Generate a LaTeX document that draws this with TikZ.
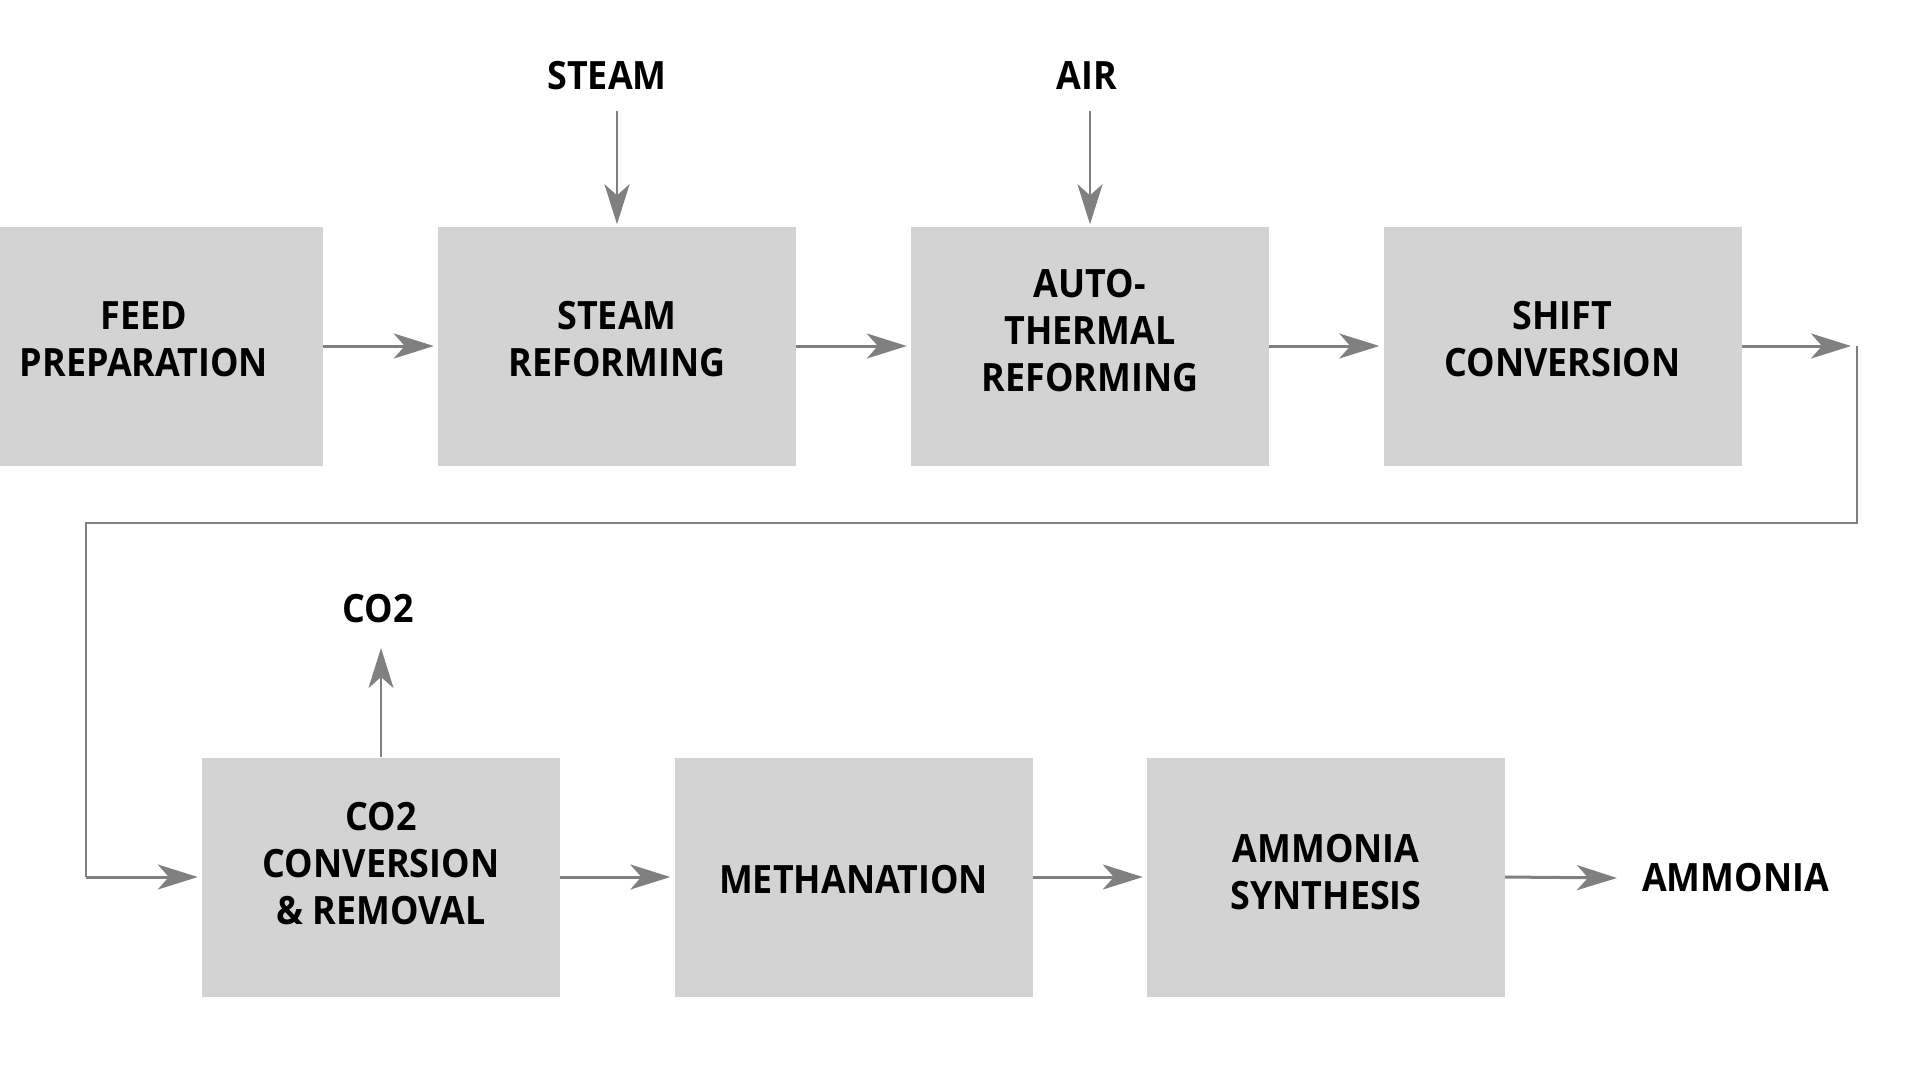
\documentclass[tikz,border=0pt]{standalone}
\usepackage{fontspec}
\setmainfont{Open Sans}[FakeStretch=0.92]
\usetikzlibrary{arrows.meta}
\definecolor{boxgray}{RGB}{211,211,211}
\definecolor{arrgray}{RGB}{128,128,128}
\tikzset{
  procbox/.style={fill=boxgray, draw=none, minimum width=358pt, minimum height=239pt, inner sep=0pt},
  boxlbl/.style={inner sep=0pt, align=center, font=\bfseries\fontsize{39}{47}\selectfont},
  lbl/.style={inner sep=0pt, font=\bfseries\fontsize{39}{47}\selectfont},
  flow/.style={draw=arrgray, line width=3pt, -{Stealth[length=40pt,width=25pt,inset=11pt]}},
  thinflow/.style={draw=arrgray, line width=2.5pt, -{Stealth[length=40pt,width=25pt,inset=11pt]}},
  loopline/.style={draw=arrgray, line width=2.5pt},
}
\begin{document}
\begin{tikzpicture}[x=1pt,y=-1pt]
\useasboundingbox (0,0) rectangle (1920,1080);
% row 1
\node[procbox, label={[boxlbl, yshift=7pt]center:{FEED\\PREPARATION}}] (feed) at (144,346) {};
\node[procbox, label={[boxlbl, yshift=7pt]center:{STEAM\\REFORMING}}] (steam) at (617,346) {};
\node[procbox, label={[boxlbl, yshift=15pt]center:{AUTO-\\THERMAL\\REFORMING}}] (atr) at (1090,346) {};
\node[procbox, label={[boxlbl, yshift=7pt]center:{SHIFT\\CONVERSION}}] (shift) at (1562.5,346) {};
% row 2
\node[procbox, label={[boxlbl, yshift=13.5pt]center:{CO2\\CONVERSION\\\& REMOVAL}}] (co2box) at (381,877) {};
\node[procbox, label={[boxlbl, yshift=-2.5pt]center:{METHANATION}}] (meth) at (853.5,877) {};
\node[procbox, label={[boxlbl, yshift=5pt]center:{AMMONIA\\SYNTHESIS}}] (synth) at (1326,877) {};
% labels
\node[lbl] (steamin) at (607,76) {STEAM};
\node[lbl] (airin) at (1087,76) {AIR};
\node[lbl] (co2out) at (378,609) {CO2};
\node[lbl, anchor=west] (nh3) at (1642,878) {AMMONIA};
% coordinates
\coordinate (steamtop) at (617,111);
\coordinate (airtop) at (1090,111);
\coordinate (co2tip) at (381,648);
\coordinate (shiftout) at (1851,346);
\coordinate (c1) at (1857,346);
\coordinate (c2) at (1857,523);
\coordinate (c3) at (86,523);
\coordinate (c4) at (86,877);
% connectors
\draw[flow] (feed.east) -- ([xshift=-4pt]steam.west);
\draw[flow] (steam.east) -- ([xshift=-4pt]atr.west);
\draw[flow] (atr.east) -- ([xshift=-4pt]shift.west);
\draw[flow] (shift.east) -- (shiftout);
\draw[loopline, line join=miter] (c1) -- (c2) -- (c3) -- (c4);
\draw[flow] (c4) -- ([xshift=-4pt]co2box.west);
\draw[flow] (co2box.east) -- ([xshift=-4pt]meth.west);
\draw[flow] (meth.east) -- ([xshift=-4pt]synth.west);
\draw[flow] (synth.east) -- ([xshift=-25pt]nh3.west);
\draw[thinflow] (steamtop) -- ([yshift=2pt]steam.north);
\draw[thinflow] (airtop) -- ([yshift=2pt]atr.north);
\draw[thinflow] (co2box.north) -- (co2tip);
\end{tikzpicture}
\end{document}
